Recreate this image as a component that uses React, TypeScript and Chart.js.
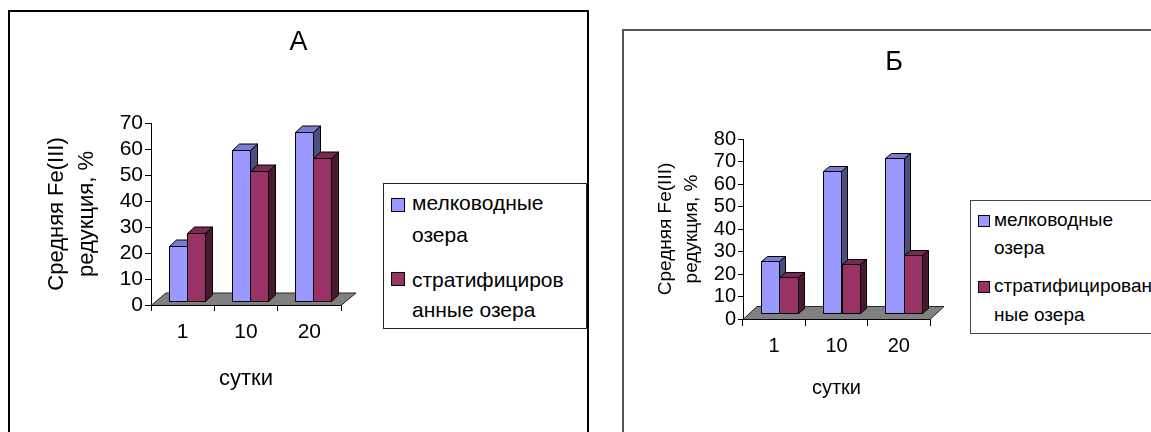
import { useEffect, useRef } from 'react';
import { Chart, registerables } from 'chart.js';

Chart.register(...registerables);

// ---- data ----
const days = ['1', '10', '20'];
const shallowA = [21, 58, 65];
const stratifiedA = [26, 50, 55];
const shallowB = [23, 63, 69];
const stratifiedB = [16, 22, 26];
const yMaxA = 70;
const yMaxB = 80;
const yStep = 10;
const seriesNames = ['мелководные озера', 'стратифицированные озера'];
const legendLinesA = [['мелководные', 'озера'], ['стратифициров', 'анные озера']];
const legendLinesB = [['мелководные', 'озера'], ['стратифицирован', 'ные озера']];
const yAxisTitle = ['Средняя Fe(III)', 'редукция, %'];
const xAxisTitle = 'сутки';

const FONT = "'Liberation Sans', Arial, sans-serif";

// front / top / side shading of each series' columns
const faces = [
  { front: '#9999FF', top: '#7B7BD0', side: '#4D4D80' },
  { front: '#993366', top: '#7A2952', side: '#4A1931' },
];

type Pt = [number, number];

function poly(ctx: CanvasRenderingContext2D, pts: Pt[], fill: string) {
  ctx.beginPath();
  ctx.moveTo(pts[0][0], pts[0][1]);
  for (let i = 1; i < pts.length; i++) ctx.lineTo(pts[i][0], pts[i][1]);
  ctx.closePath();
  ctx.fillStyle = fill;
  ctx.fill();
  ctx.stroke();
}

// Draws a gray floor under the plot and turns every bar element into an extruded column.
const columns3d = {
  id: 'columns3d',
  beforeDraw(chart: any, _args: any, o: any) {
    const { ctx, chartArea: a } = chart;
    const [fx, fy] = o.floor;
    const b = Math.round(a.bottom) + 0.5;
    ctx.save();
    ctx.lineWidth = 1;
    ctx.strokeStyle = '#262626';
    poly(ctx, [
      [a.left, b],
      [a.left + fx, b + fy],
      [a.right + fx, b + fy],
      [a.right, b],
    ], '#808080');
    ctx.restore();
  },
  afterDatasetsDraw(chart: any, _args: any, o: any) {
    const { ctx } = chart;
    const [sx, sy] = o.shift;
    const [dx, dy] = o.depth;
    const count = chart.data.labels.length;
    ctx.save();
    ctx.lineWidth = 1;
    ctx.strokeStyle = '#000';
    ctx.lineJoin = 'miter';
    for (let j = 0; j < count; j++) {
      chart.data.datasets.forEach((_d: any, i: number) => {
        const el = chart.getDatasetMeta(i).data[j];
        if (!el) return;
        const p = el.getProps(['x', 'y', 'base', 'width'], true);
        const x0 = Math.round(p.x - p.width / 2 + sx) + 0.5;
        const x1 = Math.round(p.x + p.width / 2 + sx) + 0.5;
        const yt = Math.round(p.y + sy) + 0.5;
        const yb = Math.round(p.base + sy) + 0.5;
        const f = faces[i];
        poly(ctx, [[x1, yt], [x1, yb], [x1 + dx, yb + dy], [x1 + dx, yt + dy]], f.side);
        poly(ctx, [[x0, yt], [x1, yt], [x1 + dx, yt + dy], [x0 + dx, yt + dy]], f.top);
        poly(ctx, [[x0, yt], [x1, yt], [x1, yb], [x0, yb]], f.front);
      });
    }
    ctx.restore();
  },
};

type PanelSpec = {
  title: string;
  shallow: number[];
  stratified: number[];
  yMax: number;
  legendLines: string[][];
  box: { left: number; top: number; width: number; height: number; border: number; color: string };
  area: { left: number; right: number; top: number; bottom: number };
  titleSize: number;
  titleCenter: number;
  tickSize: number;
  tickLenX: number;
  tickPadX: number;
  tickLenY: number;
  tickPadY: number;
  yTitleSize: number;
  yTitleLine: number;
  yTitlePad: number;
  xTitleSize: number;
  xTitleCenter: number;
  catPct: number;
  shift: Pt;
  depth: Pt;
  floor: Pt;
  legend: {
    left: number; top: number; width: number; height: number; borderColor: string;
    fontSize: number; swatch: number; swatchLeft: number; swatchTops: number[];
    textLeft: number; lineCenters: number[][];
  };
};

function Panel({ spec }: { spec: PanelSpec }) {
  const ref = useRef<HTMLCanvasElement | null>(null);
  const cw = spec.box.width - 2 * spec.box.border;
  const ch = spec.box.height - 2 * spec.box.border;

  useEffect(() => {
    if (!ref.current) return;
    const a = spec.area;
    const titleLH = spec.titleSize * 1.2;
    const titlePadTop = spec.titleCenter - titleLH / 2;
    const titlePadBottom = a.top - titlePadTop - titleLH;
    const xTitleLH = spec.xTitleSize * 1.2;
    const xTitlePadBottom = ch - spec.xTitleCenter - xTitleLH / 2;
    const tickFont = { family: FONT, size: spec.tickSize, lineHeight: 1.0 };

    const chart = new Chart(ref.current, {
      type: 'bar',
      data: {
        labels: days,
        datasets: [
          { label: seriesNames[0], data: spec.shallow, backgroundColor: 'rgba(0,0,0,0)', borderWidth: 0 },
          { label: seriesNames[1], data: spec.stratified, backgroundColor: 'rgba(0,0,0,0)', borderWidth: 0 },
        ],
      },
      options: {
        responsive: false,
        animation: false,
        events: [],
        layout: { padding: 0 },
        datasets: { bar: { categoryPercentage: spec.catPct, barPercentage: 1 } },
        plugins: {
          legend: { display: false },
          tooltip: { enabled: false },
          title: {
            display: true,
            text: spec.title,
            color: '#000',
            font: { family: FONT, size: spec.titleSize, weight: 'normal', lineHeight: 1.2 },
            padding: { top: titlePadTop, bottom: titlePadBottom },
          },
          columns3d: { shift: spec.shift, depth: spec.depth, floor: spec.floor },
        } as any,
        scales: {
          x: {
            type: 'category',
            offset: true,
            grid: {
              display: true,
              offset: true,
              drawOnChartArea: false,
              drawTicks: true,
              tickLength: spec.tickLenX,
              color: '#000',
            },
            border: { display: true, color: '#000', width: 1 },
            ticks: { color: '#000', font: tickFont, padding: spec.tickPadX, maxRotation: 0, autoSkip: false },
            title: {
              display: true,
              text: xAxisTitle,
              color: '#000',
              font: { family: FONT, size: spec.xTitleSize, lineHeight: 1.2 },
              padding: { top: 0, bottom: xTitlePadBottom },
            },
            afterFit: (s: any) => { s.height = ch - a.bottom; },
          },
          y: {
            type: 'linear',
            position: 'left',
            min: 0,
            max: spec.yMax,
            grid: {
              display: true,
              drawOnChartArea: false,
              drawTicks: true,
              tickLength: spec.tickLenY,
              color: '#000',
            },
            border: { display: true, color: '#000', width: 1 },
            ticks: { stepSize: yStep, color: '#000', font: tickFont, padding: spec.tickPadY, autoSkip: false },
            title: {
              display: true,
              text: yAxisTitle,
              color: '#000',
              font: { family: FONT, size: spec.yTitleSize, lineHeight: `${spec.yTitleLine}px` },
              padding: { top: spec.yTitlePad - spec.yTitleLine / 2, bottom: 0 },
            },
            afterFit: (s: any) => { s.width = a.left; },
          },
          room: {
            type: 'linear',
            position: 'right',
            display: true,
            grid: { display: false },
            border: { display: false },
            ticks: { display: false },
            afterFit: (s: any) => { s.width = cw - a.right; },
          },
        } as any,
      },
      plugins: [columns3d as any],
    });
    return () => chart.destroy();
  }, [spec, cw, ch]);

  const lg = spec.legend;
  const lineH = Math.round(lg.fontSize * 1.25);
  return (
    <div
      style={{
        position: 'absolute',
        left: spec.box.left,
        top: spec.box.top,
        width: spec.box.width,
        height: spec.box.height,
        boxSizing: 'border-box',
        border: `${spec.box.border}px solid ${spec.box.color}`,
        background: '#fff',
      }}
    >
      <canvas ref={ref} width={cw} height={ch} style={{ position: 'absolute', left: 0, top: 0, display: 'block' }} />
      <div
        style={{
          position: 'absolute',
          left: lg.left,
          top: lg.top,
          width: lg.width,
          height: lg.height,
          boxSizing: 'border-box',
          border: `1px solid ${lg.borderColor}`,
          background: '#fff',
          fontFamily: FONT,
          fontSize: lg.fontSize,
          color: '#000',
        }}
      >
        {spec.legendLines.map((lines, i) => (
          <div key={i}>
            <div
              style={{
                position: 'absolute',
                left: lg.swatchLeft,
                top: lg.swatchTops[i],
                width: lg.swatch,
                height: lg.swatch,
                boxSizing: 'border-box',
                border: '1px solid #000',
                background: faces[i].front,
              }}
            />
            {lines.map((t, k) => (
              <div
                key={k}
                style={{
                  position: 'absolute',
                  left: lg.textLeft,
                  top: lg.lineCenters[i][k] - lineH / 2,
                  lineHeight: `${lineH}px`,
                  whiteSpace: 'nowrap',
                }}
              >
                {t}
              </div>
            ))}
          </div>
        ))}
      </div>
    </div>
  );
}

const panelA: PanelSpec = {
  title: 'А',
  shallow: shallowA,
  stratified: stratifiedA,
  yMax: yMaxA,
  legendLines: legendLinesA,
  box: { left: 8, top: 10, width: 581, height: 430, border: 2, color: '#000' },
  area: { left: 141, right: 331, top: 111, bottom: 293 },
  titleSize: 27,
  titleCenter: 30.5,
  tickSize: 21,
  tickLenX: 6,
  tickPadX: 11,
  tickLenY: 6,
  tickPadY: 2,
  yTitleSize: 22,
  yTitleLine: 30,
  yTitlePad: 47,
  xTitleSize: 22,
  xTitleCenter: 367,
  catPct: 0.568,
  shift: [4, -4],
  depth: [7, -6.5],
  floor: [15, -12.5],
  legend: {
    left: 373, top: 171, width: 204, height: 146, borderColor: '#222',
    fontSize: 21, swatch: 14, swatchLeft: 7, swatchTops: [14, 88],
    textLeft: 28, lineCenters: [[19, 51], [96, 126]],
  },
};

const panelB: PanelSpec = {
  title: 'Б',
  shallow: shallowB,
  stratified: stratifiedB,
  yMax: yMaxB,
  legendLines: legendLinesB,
  box: { left: 622, top: 29, width: 544, height: 414, border: 2, color: '#555' },
  area: { left: 119, right: 306, top: 108, bottom: 288 },
  titleSize: 27,
  titleCenter: 31.5,
  tickSize: 20,
  tickLenX: 7,
  tickPadX: 10,
  tickLenY: 5,
  tickPadY: 2,
  yTitleSize: 19,
  yTitleLine: 26,
  yTitlePad: 42,
  xTitleSize: 20,
  xTitleCenter: 357,
  catPct: 0.594,
  shift: [5, -6],
  depth: [6, -5],
  floor: [14, -13],
  legend: {
    left: 346, top: 169, width: 194, height: 134, borderColor: '#444',
    fontSize: 19, swatch: 12, swatchLeft: 7, swatchTops: [14, 80],
    textLeft: 23, lineCenters: [[19, 47], [85, 114]],
  },
};

export default function App() {
  return (
    <div
      style={{
        position: 'absolute',
        left: 0,
        top: 0,
        width: 1151,
        height: 432,
        overflow: 'hidden',
        background: '#fff',
      }}
    >
      <Panel spec={panelA} />
      <Panel spec={panelB} />
    </div>
  );
}
